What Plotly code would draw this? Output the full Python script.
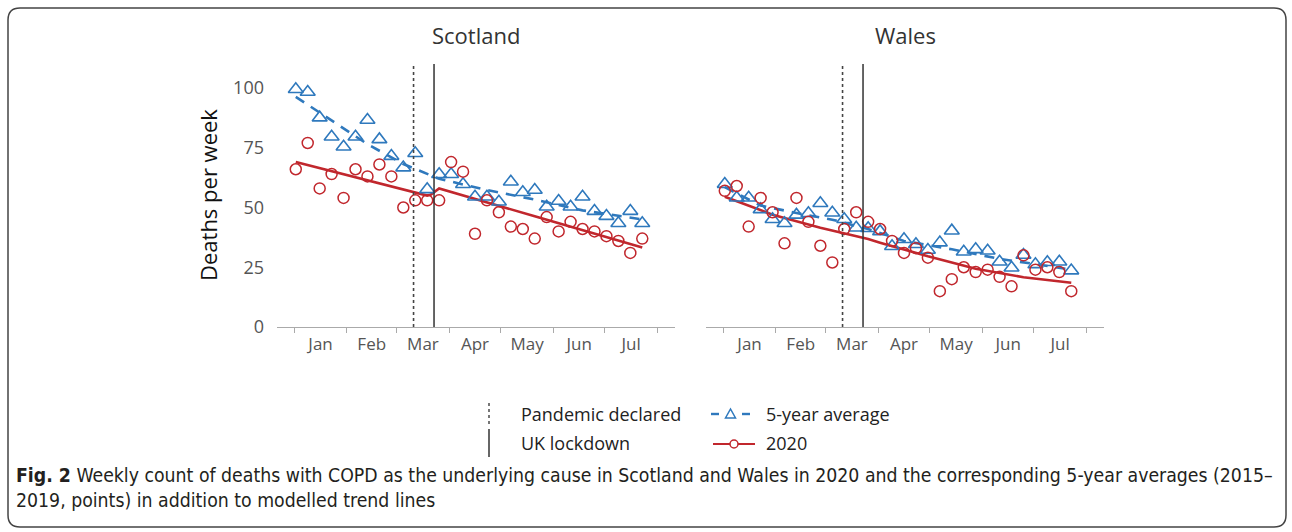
import pandas as pd
import plotly.graph_objects as go

W, H = 1292, 532

# Weekly observation dates (weeks of 2020, first week ending 2 Jan)
weeks = pd.date_range("2020-01-02", periods=30, freq="7D")

# Scotland: weekly deaths, 5-year average (2015-2019) and 2020
scot_avg = [99.5, 98.3, 87.6, 79.6, 75.4, 79.6, 86.6, 78.5, 71.5, 66.7,
            72.7, 57.6, 63.9, 63.9, 59.7, 54.5, 54.5, 52.4, 60.8, 56.4,
            57.3, 50.3, 52.7, 50.3, 54.5, 48.5, 46.4, 43.4, 48.5, 43.4]
scot_2020 = [66, 77, 58, 64, 54, 66, 63, 68, 63, 50,
             53, 53, 53, 69, 65, 39, 53, 48, 42, 41,
             37, 46, 40, 44, 41, 40, 38, 36, 31, 37]

# Wales: weekly deaths, 5-year average (2015-2019) and 2020
wales_avg = [59.8, 54.1, 54.1, 49.2, 45.1, 43.4, 46.9, 47.6, 51.8, 47.8,
             45.1, 41.5, 41.3, 40.0, 33.8, 36.7, 34.6, 32.2, 35.3, 40.3,
             31.5, 32.5, 31.9, 27.3, 24.8, 30.1, 26.2, 27.1, 27.3, 23.6]
wales_2020 = [57, 59, 42, 54, 48, 35, 54, 44, 34, 27,
              41, 48, 44, 41, 36, 31, 33, 29, 15, 20,
              25, 23, 24, 21, 17, 30, 24, 25, 23, 15]

# Modelled trend lines
scot_trend_2020_dates = ["2020-01-02", "2020-02-06", "2020-03-19", "2020-03-21",
                         "2020-03-26", "2020-05-21", "2020-07-23"]
scot_trend_2020 = [69.0, 62.6, 55.0, 55.3, 58.0, 46.3, 33.3]
scot_trend_avg_dates = ["2020-01-02", "2020-01-23", "2020-02-13", "2020-03-05",
                        "2020-03-26", "2020-04-23", "2020-05-21", "2020-06-18",
                        "2020-07-23"]
scot_trend_avg = [96.3, 86.4, 76.5, 68.2, 62.0, 57.3, 53.3, 48.8, 45.0]

wales_trend_2020_dates = ["2020-01-02", "2020-01-30", "2020-02-27", "2020-03-12",
                          "2020-03-19", "2020-03-26", "2020-04-02", "2020-04-16",
                          "2020-04-30", "2020-05-28", "2020-06-25", "2020-07-23"]
wales_trend_2020 = [54.5, 47.0, 41.5, 39.2, 37.9, 36.8, 35.3, 32.5, 29.6, 24.4, 20.8, 18.5]
wales_trend_avg_dates = ["2020-01-02", "2020-01-23", "2020-02-13", "2020-03-05",
                         "2020-03-26", "2020-04-16", "2020-05-14", "2020-06-11",
                         "2020-07-02", "2020-07-23"]
wales_trend_avg = [58.5, 50.8, 47.7, 44.9, 41.0, 36.0, 32.5, 28.5, 26.3, 24.0]

panel_titles = ["Scotland", "Wales"]
pandemic_declared = "2020-03-11"
uk_lockdown = "2020-03-23"
y_ticks = [0, 25, 50, 75, 100]

BLUE = "#2f79bd"
RED = "#c1272d"
FONT = "Open Sans"


def px(x):
    return x / W


def py(y):
    return 1 - y / H


fig = go.Figure()

panels = [
    ("x", "y", scot_avg, scot_2020, scot_trend_avg_dates, scot_trend_avg,
     scot_trend_2020_dates, scot_trend_2020),
    ("x2", "y2", wales_avg, wales_2020, wales_trend_avg_dates, wales_trend_avg,
     wales_trend_2020_dates, wales_trend_2020),
]

for xa, ya, avg, cur, tad, ta, tcd, tc in panels:
    fig.add_trace(go.Scatter(x=tad, y=ta, mode="lines", xaxis=xa, yaxis=ya,
                             line=dict(color=BLUE, width=2.6, dash="10px,8px")))
    fig.add_trace(go.Scatter(x=tcd, y=tc, mode="lines", xaxis=xa, yaxis=ya,
                             line=dict(color=RED, width=2.6)))
    fig.add_trace(go.Scatter(x=weeks, y=avg, mode="markers", xaxis=xa, yaxis=ya,
                             marker=dict(symbol="triangle-up-open", size=13,
                                         color=BLUE, line=dict(width=1.6, color=BLUE))))
    fig.add_trace(go.Scatter(x=weeks, y=cur, mode="markers", xaxis=xa, yaxis=ya,
                             marker=dict(symbol="circle-open", size=11,
                                         color=RED, line=dict(width=1.5, color=RED))))

# Reference lines: pandemic declared (dotted) and UK lockdown (solid)
for xa, ya in [("x", "y"), ("x2", "y2")]:
    fig.add_shape(type="line", xref=xa, yref=ya, x0=pandemic_declared, x1=pandemic_declared,
                  y0=0, y1=110, line=dict(color="#444", width=1.6, dash="dot"))
    fig.add_shape(type="line", xref=xa, yref=ya, x0=uk_lockdown, x1=uk_lockdown,
                  y0=0, y1=110, line=dict(color="#333", width=1.5))

x_range = ["2019-12-22", "2020-08-11"]
xaxis_style = dict(type="date", range=x_range, tick0="2020-01-01", dtick="M1",
                   tickformat="%b", ticklabelmode="period", ticks="outside",
                   ticklen=5, tickwidth=1.2, tickcolor="#aaa", showline=True,
                   linecolor="#aaa", linewidth=1.2, showgrid=False, zeroline=False,
                   automargin=False, ticklabelstandoff=-4,
                   tickfont=dict(family=FONT, size=17, color="#555"))

y_dom = [py(327), py(64.1)]
fig.update_layout(
    width=W, height=H,
    margin=dict(l=0, r=0, t=0, b=0, autoexpand=False),
    paper_bgcolor="white", plot_bgcolor="white",
    showlegend=False, hovermode=False,
    xaxis=dict(domain=[px(277), px(674.7)], anchor="y", **xaxis_style),
    xaxis2=dict(domain=[px(706), px(1103.7)], anchor="y2", **xaxis_style),
    yaxis=dict(domain=y_dom, anchor="x", range=[0, 110], tickvals=y_ticks,
               showline=False, ticks="", showgrid=False, zeroline=False,
               automargin=False, ticklabelstandoff=12,
               tickfont=dict(family=FONT, size=18, color="#555")),
    yaxis2=dict(domain=y_dom, anchor="x2", range=[0, 110], tickvals=y_ticks,
                showline=False, ticks="", showgrid=False, zeroline=False,
                automargin=False, showticklabels=False),
)

# Legend keys, drawn in paper coordinates
def seg(x0, y0, x1, y1, color, width, dash="solid"):
    fig.add_shape(type="line", xref="paper", yref="paper",
                  x0=px(x0), y0=py(y0), x1=px(x1), y1=py(y1),
                  line=dict(color=color, width=width, dash=dash))


seg(489, 403, 489, 424, "#555", 1.6, "dot")
seg(489, 429, 489, 457, "#333", 1.5)
seg(711, 414, 719, 414, BLUE, 2.4)
seg(742, 414, 750, 414, BLUE, 2.4)
tri = (f"M {px(725.5)},{py(418)} L {px(735.5)},{py(418)} L {px(730.5)},{py(409)} Z")
fig.add_shape(type="path", path=tri, xref="paper", yref="paper",
              line=dict(color=BLUE, width=1.5))
seg(713, 444, 755, 444, RED, 2.2)
fig.add_shape(type="circle", xref="paper", yref="paper",
              x0=px(730), x1=px(738), y0=py(448), y1=py(440),
              fillcolor="white", line=dict(color=RED, width=1.5))

ann = []
for title, cx in zip(panel_titles, [476, 905]):
    ann.append(dict(text=title, x=px(cx), y=py(35), xref="paper", yref="paper",
                    showarrow=False, xanchor="center", yanchor="middle",
                    font=dict(family=FONT, size=22, color="#333")))
ann.append(dict(text="Deaths per week", x=px(208), y=py(195), xref="paper", yref="paper",
                showarrow=False, textangle=-90, xanchor="center", yanchor="middle",
                font=dict(family=FONT, size=22, color="#111")))
legend_texts = [("Pandemic declared", 519, 414), ("UK lockdown", 519, 443),
                ("5-year average", 764, 414), ("2020", 764, 443)]
for t, lx, ly in legend_texts:
    ann.append(dict(text=t, x=px(lx), y=py(ly), xref="paper", yref="paper",
                    showarrow=False, xanchor="left", yanchor="middle",
                    font=dict(family=FONT, size=18, color="#222")))
ann.append(dict(
    text=("<b>Fig. 2</b> Weekly count of deaths with COPD as the underlying cause in Scotland "
          "and Wales in 2020 and the corresponding 5-year averages (2015–<br>"
          "2019, points) in addition to modelled trend lines"),
    x=px(14), y=py(488), xref="paper", yref="paper", showarrow=False,
    xanchor="left", yanchor="middle", align="left",
    font=dict(family="DejaVu Sans Condensed, Liberation Sans Narrow", size=19.3,
              color="#231f20")))
fig.update_layout(annotations=ann)

# Rounded frame around the figure
x0, y0, x1, y1, r = 8, 8, 1286, 527, 12
path = (f"M {px(x0 + r)},{py(y0)} L {px(x1 - r)},{py(y0)} "
        f"Q {px(x1)},{py(y0)} {px(x1)},{py(y0 + r)} "
        f"L {px(x1)},{py(y1 - r)} Q {px(x1)},{py(y1)} {px(x1 - r)},{py(y1)} "
        f"L {px(x0 + r)},{py(y1)} Q {px(x0)},{py(y1)} {px(x0)},{py(y1 - r)} "
        f"L {px(x0)},{py(y0 + r)} Q {px(x0)},{py(y0)} {px(x0 + r)},{py(y0)} Z")
fig.add_shape(type="path", path=path, xref="paper", yref="paper",
              line=dict(color="#444", width=1.5))

# Page without the default body margin so the figure fills the window exactly
page_js = "document.body.style.margin='0';"
fig.write_html("out.html", post_script=page_js)
